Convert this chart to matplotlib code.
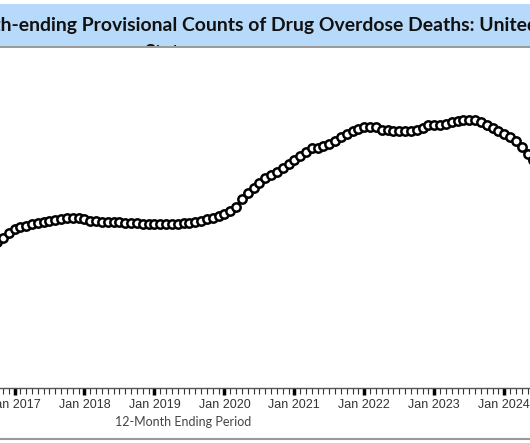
import matplotlib
matplotlib.use("Agg")
import matplotlib.pyplot as plt
from matplotlib.ticker import FixedLocator, NullFormatter

# months counted from Jan 2017 (Oct 2016 = -3 ... Jun 2024 = 89)
months = list(range(-3, 90))
deaths = [
    60800, 62500, 64600,                                   # Oct-Dec 2016
    66200, 67100, 67500, 68300, 68700, 69200, 69600, 70000, 70400, 70800, 70800, 70800,  # 2017
    70400, 69600, 69600, 69200, 69200, 69200, 69200, 68700, 68700, 68700, 68300, 68300,  # 2018
    68300, 68300, 68300, 68300, 68300, 68700, 68700, 69200, 69600, 70400, 70800, 71700,  # 2019
    72500, 73700, 75400, 78700, 81200, 83300, 85400, 87500, 88700, 90000, 91700, 93300,  # 2020
    95000, 96700, 98300, 100000, 100000, 100800, 101700, 102900, 104600, 105800, 107100, 107900,  # 2021
    108700, 108700, 108700, 107500, 107500, 107100, 107100, 107100, 107100, 107500, 108300, 109600,  # 2022
    109600, 109600, 110000, 110800, 111200, 111700, 111700, 111700, 110800, 109600, 108300, 107100,  # 2023
    105800, 104600, 102900, 100400, 97500, 95000,          # Jan-Jun 2024
]
year_ticks = [0, 12, 24, 36, 48, 60, 72, 84]
year_labels = ["Jan 2017", "Jan 2018", "Jan 2019", "Jan 2020",
               "Jan 2021", "Jan 2022", "Jan 2023", "Jan 2024"]

W, H = 530, 443
fig = plt.figure(figsize=(W / 100, H / 100), dpi=100)

px_per_month = 5.83
x0 = 14.5  # pixel of Jan 2017

# main plot
ax = fig.add_axes([0, (H - 388) / H, 1, (388 - 47) / H])
ax.plot(months, deaths, color="black", lw=1.5, marker="o", ms=6,
        mfc="white", mec="black", mew=1.8, zorder=3)
ax.set_xlim(-x0 / px_per_month, (W - x0) / px_per_month)
ax.set_ylim(0, (388 - 47) / 2.4 * 1000)
for s in ["top", "left", "right"]:
    ax.spines[s].set_visible(False)
ax.spines["bottom"].set_color("#555555")
ax.spines["bottom"].set_linewidth(1)
ax.set_yticks([])
ax.xaxis.set_major_locator(FixedLocator(year_ticks))
ax.set_xticklabels(year_labels, fontsize=9, color="#333333", family="Liberation Sans")
ax.xaxis.set_minor_locator(FixedLocator(list(range(-3, 92))))
ax.xaxis.set_minor_formatter(NullFormatter())
ax.tick_params(axis="x", which="major", length=5, width=2.5, color="black", pad=3)
ax.tick_params(axis="x", which="minor", length=4, width=0.8, color="#333333")

fig.text(183 / W, (H - 422) / H, "12-Month Ending Period", ha="center", va="center",
         fontsize=9, color="#444444", family="Lato")

# header band with clipped title
hax = fig.add_axes([0, (H - 46) / H, 1, 42 / H])
hax.set_facecolor("#b8dafa")
hax.set_xlim(0, W)
hax.set_ylim(42, 0)
hax.set_xticks([])
hax.set_yticks([])
for s in hax.spines.values():
    s.set_visible(False)

title = "12 Month-ending Provisional Counts of Drug Overdose Deaths: United"
prefix = "12 Mont"
visible = "h-ending Provisional Counts of Drug Overdose Deaths: Unite"
r = fig.canvas.get_renderer()
probe = fig.text(0, 0, visible, fontsize=13, weight="bold", family="Lato")
w_vis = probe.get_window_extent(r).width
fs = 13 * 527 / w_vis
probe.set_text(prefix)
probe.set_fontsize(fs)
w_pre = probe.get_window_extent(r).width
probe.remove()

hax.text(1 - w_pre, 21, title, ha="left", va="center", fontsize=fs,
         weight="bold", family="Lato", color="#111111", clip_on=True)
hax.text(172, 40.5, "States", ha="center", va="top", fontsize=fs,
         weight="bold", family="Lato", color="#111111", clip_on=True)

# separator lines
fig.add_artist(plt.Line2D([0, 1], [(H - 46.5) / H] * 2, color="#888888", lw=1.2))
fig.add_artist(plt.Line2D([0, 1], [(H - 439) / H] * 2, color="#999999", lw=1.5))

fig.savefig("out.png", dpi=100)
